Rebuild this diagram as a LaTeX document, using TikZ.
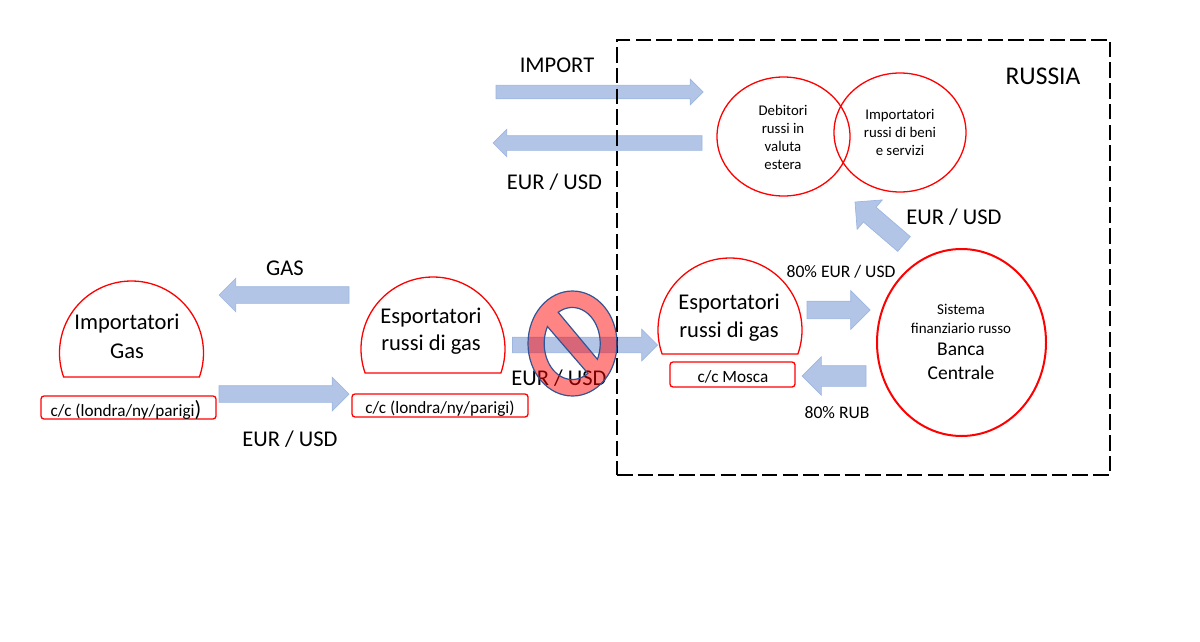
\documentclass[tikz,border=0pt]{standalone}
\usepackage{fontspec}
\setmainfont{Carlito}
\usetikzlibrary{shapes.arrows,shapes.geometric}
\definecolor{arrowfill}{HTML}{B2C5E7}
\definecolor{arrowline}{HTML}{9DB6E0}
\definecolor{nored}{HTML}{FF0000}
\definecolor{noblue}{HTML}{2F5597}
\newcommand{\fs}[1]{\fontsize{#1}{#1}\selectfont}
\tikzset{
 barrow/.style n args={3}{single arrow,anchor=tail,draw=arrowline,fill=arrowfill,line width=.7pt,
   minimum height=#1,minimum width=#3,inner sep=#2/2,outer sep=0pt,
   single arrow head extend=(#3-#2)/2,single arrow tip angle=90},
 lab/.style={inner sep=0pt,font=\fs{22.5}},
 smalllab/.style={inner sep=0pt,font=\fs{17.6}},
 oval/.style={ellipse,draw=red,line width=1.3pt,inner sep=0pt,outer sep=0pt,align=center},
 dome/.style={draw=red,line width=1.3pt,fill=white},
 ccbox/.style={rectangle,rounded corners=3pt,draw=red,line width=1.3pt,inner sep=0pt,outer sep=0pt},
 cctext/.style={inner sep=0pt,font=\fs{17.2},anchor=base},
 framebox/.style={rectangle,draw=black,line width=2.2pt,dash pattern=on 15.5pt off 5.2pt,inner sep=0pt,outer sep=0pt},
 ovaltext/.style={inner sep=0pt,align=center,font=\fs{14.8}},
}
\begin{document}
\begin{tikzpicture}[x=1pt,y=-1pt]
\useasboundingbox (0,0) rectangle (1200,642);
\node[lab,font=\fs{25.5}] (russia) at (1043,76.5) {RUSSIA};
% top arrows
\node[barrow={207pt}{13pt}{25pt}] (aimport) at (496,92) {};
\node[barrow={209pt}{14pt}{27pt},rotate=180] (aeur) at (702,143) {};
\node[lab] (limport) at (557,65.5) {IMPORT};
\node[lab] (leurtop) at (554.5,182.5) {EUR / USD};
% ovals
\node[oval,minimum width=133pt,minimum height=119pt] (deb) at (783.5,136.5) {};
\node[oval,minimum width=132pt,minimum height=119pt] (imp) at (900,132.5) {};
\node[ovaltext] (debt) at (783,137.5) {Debitori\\[3.2pt]russi in\\[3.2pt]valuta\\[3.2pt]estera};
\node[ovaltext] (impt) at (900,132.5) {Importatori\\[3.2pt]russi di beni\\[3.2pt]e servizi};
% diagonal arrow
\node[barrow={64.5pt}{18.7pt}{38pt},rotate=139.4] (adiag) at (904,244) {};
\node[lab] (leurdiag) at (954,217.5) {EUR / USD};
% bank
\node[oval,line width=2pt,minimum width=169pt,minimum height=187pt] (bank) at (961.5,342.5) {};
\node[inner sep=0pt,font=\fs{15}] (s1) at (961,309.5) {Sistema};
\node[inner sep=0pt,font=\fs{15}] (s2) at (961,328.5) {finanziario russo};
\node[inner sep=0pt,font=\fs{19.5}] (s3) at (961,349.5) {Banca};
\node[inner sep=0pt,font=\fs{19.5}] (s4) at (961,372.5) {Centrale};
% bank arrows
\node[barrow={63pt}{17pt}{38pt}] (a80e) at (807,310) {};
\node[barrow={64pt}{20pt}{38pt},rotate=180] (a80r) at (866,376) {};
\node[smalllab] (l80e) at (841,271.5) {80\% EUR / USD};
\node[smalllab] (l80r) at (837,412.5) {80\% RUB};
% dome 1
\draw[dome] plot[domain=160.5:379.5,samples=80] ({131.5+72*cos(\x)},{353+72*sin(\x)}) -- cycle;
\node[lab] (t1a) at (127,324) {Importatori};
\node[lab] (t1b) at (127,351) {Gas};
\node[ccbox,minimum width=175pt,minimum height=23pt] (cc1) at (128.5,407.5) {};
\node[cctext] (cc1t) at (126,416.5) {c/c (londra/ny/parigi{\fs{22})}};
% dome 2
\draw[dome] plot[domain=160.5:379.5,samples=80] ({433+72*cos(\x)},{349+72*sin(\x)}) -- cycle;
\node[lab] (t2a) at (431,318) {Esportatori};
\node[lab] (t2b) at (431,345) {russi di gas};
\node[ccbox,minimum width=176pt,minimum height=23pt] (cc2) at (440,405.5) {};
\node[cctext] (cc2t) at (440,413.5) {c/c (londra/ny/parigi)};
% dome 3
\draw[dome] plot[domain=160.5:379.5,samples=80] ({730+72*cos(\x)},{330+72*sin(\x)}) -- cycle;
\node[lab] (t3a) at (729,304) {Esportatori};
\node[lab] (t3b) at (729,332) {russi di gas};
\node[ccbox,minimum width=125pt,minimum height=25pt] (cc3) at (732.5,374.5) {};
\node[cctext] (cc3t) at (733,382) {c/c Mosca};
% left arrows
\node[barrow={130pt}{16pt}{33pt},rotate=180] (agas) at (349,295) {};
\node[lab] (lgas) at (285,268.5) {GAS};
\node[barrow={130pt}{16pt}{33pt}] (aeurl) at (219,394) {};
\node[lab] (leurl) at (290,439.5) {EUR / USD};
% middle arrow and label
\node[barrow={145pt}{15pt}{31pt}] (amid) at (512.5,345) {};
\node[lab] (leurm) at (559,378) {EUR / USD};
% frame, over the arrows that cross it
\node[framebox,anchor=north west,minimum width=493pt,minimum height=435pt] (frame) at (617,40) {};
% no symbol
\path[fill=nored,fill opacity=.48,draw=noblue,line width=1.2pt,even odd rule]
  (572.5,343.5) ellipse [x radius=44.5pt,y radius=52.5pt]
  plot[domain=-120:26,samples=50] ({572.2+28*cos(\x)},{343.5+36*sin(\x)}) -- cycle
  plot[domain=56:208,samples=50] ({572.2+28*cos(\x)},{343.5+36*sin(\x)}) -- cycle;
\end{tikzpicture}
\end{document}
